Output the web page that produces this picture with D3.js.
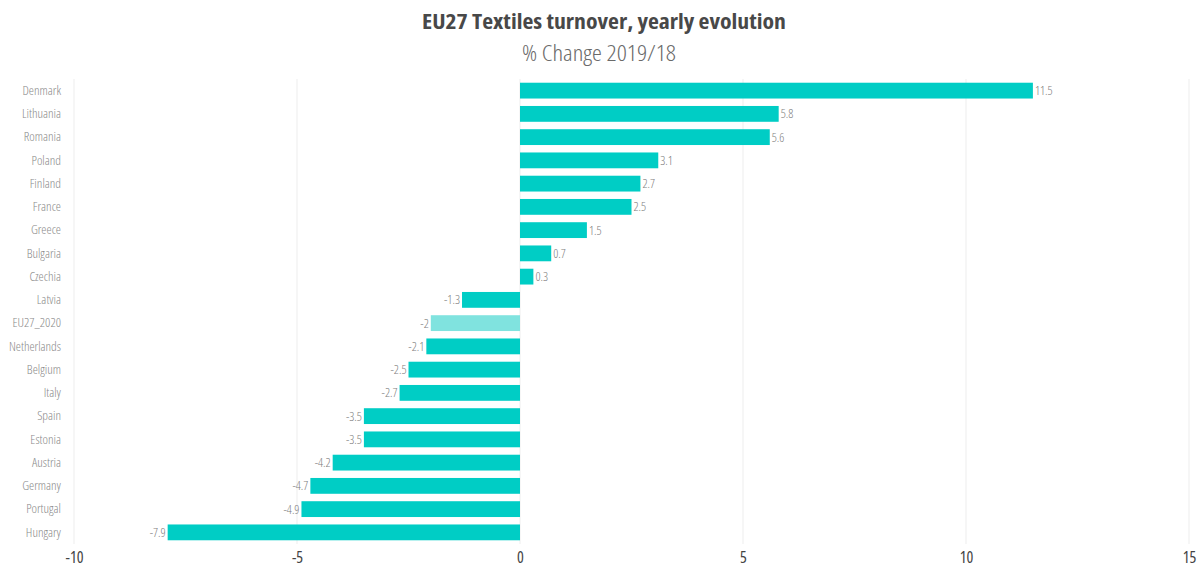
<!DOCTYPE html>
<html>
<head>
<meta charset="utf-8">
<script src="https://cdn.jsdelivr.net/npm/d3@7"></script>
<style>
  html, body { margin: 0; padding: 0; background: #fff; }
  svg { display: block; }
  .light { font-family: "Open Sans", "Liberation Sans Narrow", sans-serif; font-stretch: 75%; font-weight: 300; }
  .heavy { font-family: "Open Sans", sans-serif; font-stretch: 75%; font-weight: 700; }
</style>
</head>
<body>
<svg id="chart" width="1203" height="579"></svg>
<script>
const countries = ["Denmark", "Lithuania", "Romania", "Poland", "Finland", "France", "Greece",
  "Bulgaria", "Czechia", "Latvia", "EU27_2020", "Netherlands", "Belgium", "Italy", "Spain",
  "Estonia", "Austria", "Germany", "Portugal", "Hungary"];
const changes = [11.5, 5.8, 5.6, 3.1, 2.7, 2.5, 1.5, 0.7, 0.3, -1.3, -2, -2.1, -2.5, -2.7, -3.5,
  -3.5, -4.2, -4.7, -4.9, -7.9];
const xTicks = [-10, -5, 0, 5, 10, 15];
const highlight = "EU27_2020";

const data = countries.map((c, i) => ({ country: c, value: changes[i] }));

const svg = d3.select("#chart");
const W = 1203, H = 579;
const margin = { left: 74, right: 14, top: 79, bottom: 35 };

const x = d3.scaleLinear().domain([-10, 15]).range([margin.left, W - margin.right]);
const y = d3.scaleBand().domain(countries).range([margin.top, H - margin.bottom]).paddingInner(0.32).paddingOuter(0.16);

// vertical grid lines
svg.append("g").selectAll("line").data(xTicks).join("line")
  .attr("x1", d => x(d)).attr("x2", d => x(d))
  .attr("y1", margin.top).attr("y2", H - margin.bottom)
  .attr("stroke", "#ededed").attr("stroke-width", 1);

// x axis labels
const xAxis = d3.axisBottom(x).tickValues(xTicks).tickFormat(d => String(d)).tickSize(0).tickPadding(0);
svg.append("g").attr("transform", `translate(0,${H - 22})`).call(xAxis)
  .attr("font-family", null).attr("font-size", null).attr("class", "light")
  .call(g => g.select(".domain").remove())
  .call(g => g.selectAll("text").attr("font-size", 16).attr("fill", "#444")
    .style("font-weight", 400).attr("dy", "0.35em").attr("y", 0));

// category labels
const yAxis = d3.axisLeft(y).tickSize(0).tickPadding(0);
svg.append("g").attr("transform", `translate(${margin.left - 13},0)`).call(yAxis)
  .attr("font-family", null).attr("font-size", null).attr("class", "light")
  .call(g => g.select(".domain").remove())
  .call(g => g.selectAll("text").attr("font-size", 13).attr("fill", "#8a8a8a"));

// bars
svg.append("g").selectAll("rect").data(data).join("rect")
  .attr("x", d => x(Math.min(0, d.value)))
  .attr("width", d => Math.abs(x(d.value) - x(0)))
  .attr("y", d => y(d.country))
  .attr("height", y.bandwidth())
  .attr("fill", d => d.country === highlight ? "#80e3df" : "#00cdc5");

// value labels
svg.append("g").attr("class", "light").selectAll("text").data(data).join("text")
  .attr("x", d => d.value >= 0 ? x(d.value) + 2 : x(d.value) - 2)
  .attr("y", d => y(d.country) + y.bandwidth() / 2)
  .attr("dy", "0.35em")
  .attr("text-anchor", d => d.value >= 0 ? "start" : "end")
  .attr("font-size", 12.5).attr("fill", "#808080")
  .text(d => d.value);

// titles
svg.append("text").attr("class", "heavy").attr("x", 604).attr("y", 29).attr("text-anchor", "middle")
  .attr("font-size", 21).attr("fill", "#484848")
  .attr("textLength", 364).attr("lengthAdjust", "spacingAndGlyphs")
  .text("EU27 Textiles turnover, yearly evolution");
svg.append("text").attr("class", "light").attr("x", 599).attr("y", 61).attr("text-anchor", "middle")
  .attr("font-size", 21.5).attr("fill", "#6a6a6a")
  .attr("textLength", 154).attr("lengthAdjust", "spacingAndGlyphs")
  .text("% Change 2019/18");
</script>
</body>
</html>
